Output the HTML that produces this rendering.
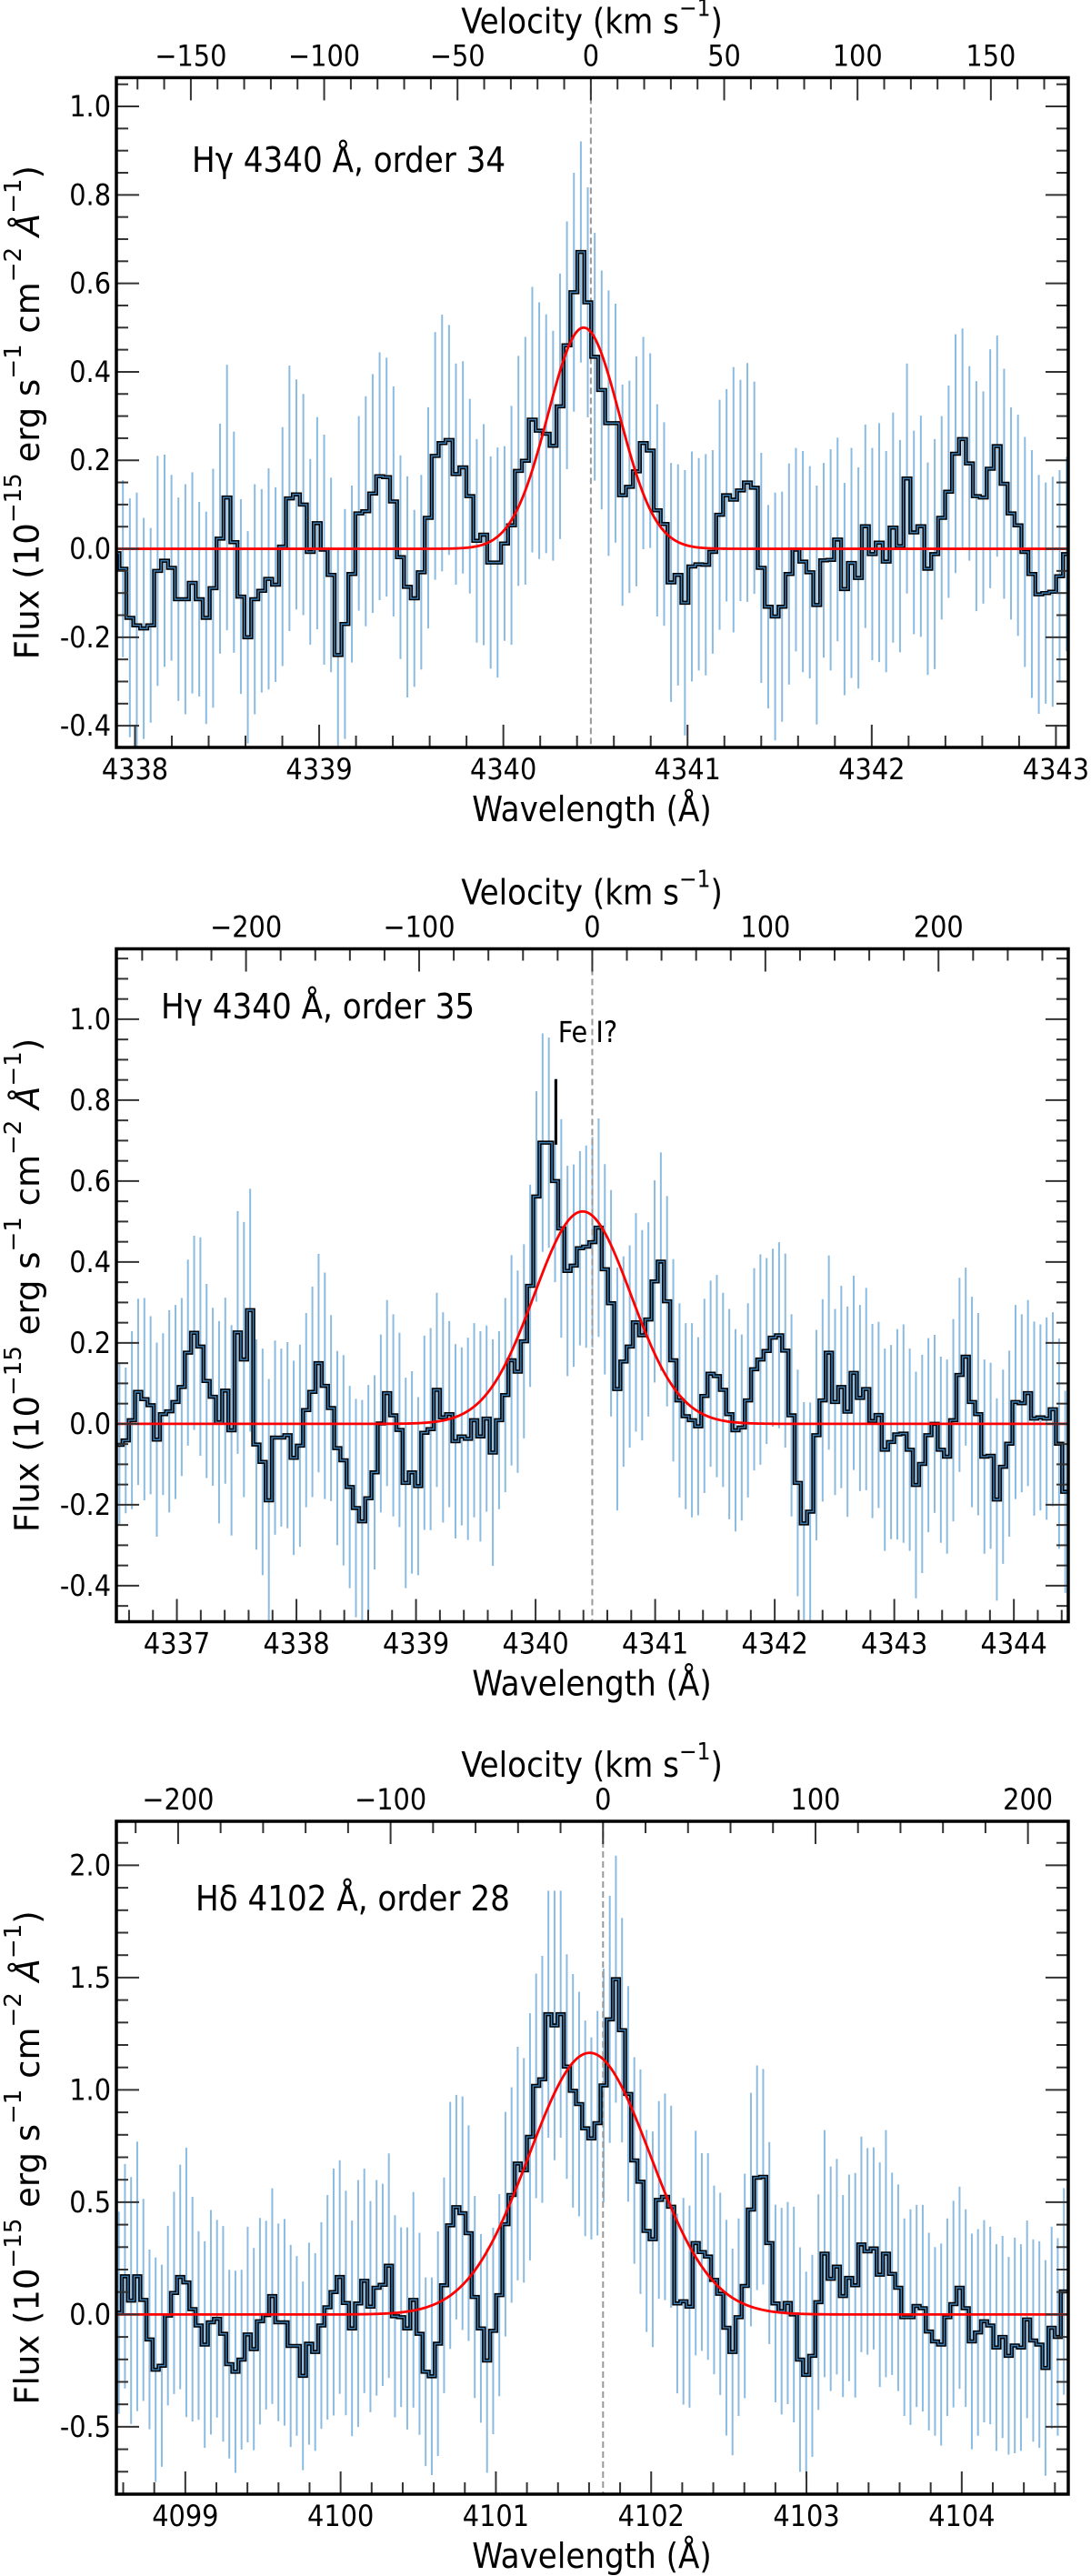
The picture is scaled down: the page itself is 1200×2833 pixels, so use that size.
<!DOCTYPE html>
<html><head><meta charset="utf-8"><title>Balmer line spectra</title>
<style>
html,body{margin:0;padding:0;background:#fff;}
svg{display:block;}
.tk{font-family:"DejaVu Sans Condensed","Liberation Sans Narrow","Liberation Sans",sans-serif;font-stretch:condensed;font-size:32px;fill:#000;}
.ttl{font-family:"DejaVu Sans Condensed","Liberation Sans Narrow","Liberation Sans",sans-serif;font-stretch:condensed;font-size:38px;fill:#000;}
.ylab{font-family:"DejaVu Sans","Liberation Sans",sans-serif;font-size:37px;fill:#000;}
</style></head>
<body>
<svg id="fig" xmlns="http://www.w3.org/2000/svg" width="1200" height="2833" viewBox="0 0 1200 2833"></svg>
<script>
// ---------- DATA ----------
// Panel 1: H-gamma order 34
const p1Start = 4337.878;
const p1Step = 0.03767;
const p1Flux = [-0.01,-0.045,-0.156,-0.173,-0.18,-0.173,-0.05,-0.027,-0.043,-0.114,-0.114,
-0.077,-0.114,-0.156,-0.089,0.023,0.116,0.015,-0.108,-0.2,-0.114,
-0.095,-0.068,-0.081,0.005,0.114,0.123,0.1,-0.007,0.058,-0.002,
-0.059,-0.24,-0.17,-0.057,0.08,0.085,0.125,0.164,0.162,0.107,
-0.019,-0.086,-0.112,-0.053,0.07,0.21,0.239,0.246,0.169,0.184,
0.119,0.018,0.032,-0.031,-0.031,0.012,0.053,0.176,0.199,0.292,
0.267,0.26,0.233,0.322,0.46,0.58,0.671,
0.557,0.434,0.359,0.284,0.284,0.121,0.14,0.175,0.239,0.222,
0.087,0.056,-0.076,-0.059,-0.122,-0.04,-0.035,-0.036,-0.007,0.077,
0.121,0.111,0.132,0.15,0.138,-0.043,-0.131,-0.153,-0.131,-0.057,
-0.002,-0.029,-0.053,-0.127,-0.026,-0.025,0.021,-0.091,-0.032,-0.066,
0.051,-0.012,0.014,-0.029,0.048,0.006,0.159,0.037,0.051,-0.045,
-0.012,0.07,0.129,0.215,0.248,0.193,0.119,0.116,0.181,0.232,
0.147,0.08,0.053,-0.007,-0.057,-0.103,-0.1,-0.097,-0.062,-0.012];
const p1Err = [0.26,0.2,0.27,0.3,0.25,0.22,0.26,0.24,0.21,0.23,0.26,
0.25,0.22,0.24,0.27,0.26,0.3,0.25,0.22,0.24,0.26,
0.23,0.25,0.22,0.27,0.3,0.26,0.25,0.21,0.24,0.26,
0.22,0.24,0.26,0.2,0.22,0.26,0.27,0.28,0.27,0.26,
0.23,0.25,0.2,0.22,0.25,0.28,0.29,0.26,0.25,0.24,
0.22,0.23,0.25,0.24,0.26,0.22,0.27,0.26,0.28,0.3,
0.29,0.27,0.26,0.3,0.28,0.27,0.25,
0.26,0.28,0.27,0.3,0.27,0.25,0.24,0.26,0.24,0.22,
0.24,0.23,0.27,0.25,0.3,0.26,0.24,0.25,0.23,0.26,
0.24,0.3,0.25,0.27,0.24,0.26,0.23,0.28,0.26,0.25,
0.23,0.25,0.24,0.27,0.22,0.25,0.23,0.24,0.26,0.25,
0.23,0.24,0.27,0.25,0.26,0.24,0.26,0.23,0.25,0.24,
0.26,0.23,0.24,0.27,0.25,0.22,0.26,0.24,0.27,0.25,
0.26,0.24,0.25,0.26,0.28,0.27,0.25,0.26,0.24,0.22];
const p1Fit = {amp: 0.50, center: 4340.436, sigma: 0.194};
const p1Rest = 4340.475;

// Panel 2: H-gamma order 35
const p2Start = 4336.494;
const p2Step = 0.05204;
const p2Flux = [-0.052,-0.041,0.009,0.079,0.061,0.046,-0.039,0.024,0.031,0.054,
0.091,0.176,0.225,0.191,0.106,0.067,0.004,0.082,-0.016,0.226,
0.159,0.281,-0.051,-0.094,-0.189,-0.034,-0.034,-0.028,-0.084,-0.054,
0.034,0.079,0.15,0.094,0.039,-0.06,-0.09,-0.156,-0.208,-0.241,
-0.184,-0.12,0.001,0.076,0.021,-0.015,-0.146,-0.12,-0.154,-0.022,
-0.013,0.084,0.016,0.024,-0.043,-0.031,-0.037,0.009,-0.031,0.013,
-0.071,0.009,0.071,0.157,0.129,0.204,0.341,
0.562,0.695,0.695,0.6,0.483,0.378,0.391,0.434,
0.438,0.449,0.485,0.382,0.298,0.086,0.154,0.191,0.251,0.219,
0.258,0.352,0.401,0.303,0.157,0.058,0.019,0.009,-0.006,0.069,
0.124,0.118,0.084,0.024,-0.016,-0.009,0.058,0.135,0.159,0.18,
0.213,0.219,0.181,0.021,-0.146,-0.246,-0.217,-0.028,0.058,0.176,
0.054,0.091,0.03,0.126,0.064,0.086,0.007,0.022,-0.064,-0.045,
-0.026,-0.024,-0.064,-0.151,-0.099,-0.028,0,-0.064,-0.081,0.009,
0.121,0.166,0.054,0.024,-0.081,-0.079,-0.187,-0.106,-0.049,0.054,
0.051,0.076,0.013,0.016,0.013,0.036,-0.049,-0.168];
const p2Err = [0.2,0.18,0.22,0.23,0.25,0.22,0.24,0.2,0.25,0.24,
0.22,0.23,0.24,0.27,0.24,0.22,0.25,0.23,0.26,0.3,
0.34,0.3,0.26,0.28,0.3,0.24,0.22,0.23,0.24,0.25,
0.24,0.26,0.27,0.28,0.23,0.24,0.26,0.25,0.27,0.3,
0.28,0.24,0.22,0.23,0.25,0.24,0.26,0.25,0.22,0.24,
0.25,0.24,0.26,0.23,0.24,0.22,0.25,0.24,0.26,0.23,
0.28,0.22,0.24,0.26,0.25,0.24,0.25,
0.26,0.27,0.26,0.25,0.27,0.26,0.25,0.24,
0.25,0.26,0.27,0.26,0.28,0.3,0.26,0.25,0.27,0.26,
0.24,0.25,0.27,0.26,0.25,0.24,0.23,0.24,0.22,0.24,
0.23,0.25,0.24,0.26,0.25,0.23,0.24,0.25,0.26,0.23,
0.22,0.23,0.24,0.25,0.28,0.3,0.27,0.26,0.25,0.24,
0.23,0.25,0.26,0.24,0.23,0.25,0.24,0.23,0.25,0.24,
0.26,0.27,0.25,0.28,0.27,0.24,0.22,0.23,0.24,0.25,
0.24,0.22,0.26,0.25,0.24,0.23,0.25,0.24,0.23,0.24,
0.22,0.23,0.24,0.23,0.25,0.24,0.26,0.25];
const p2Fit = {amp: 0.525, center: 4340.393, sigma: 0.405};
const p2Rest = 4340.474;
const p2Mark = {wave: 4340.17, low: 0.69, high: 0.852, label: "Fe I?"};

// Panel 3: H-delta order 28
const p3Start = 4098.552;
const p3Step = 0.03952;
const p3Flux = [0.008,0.17,0.062,0.17,0.065,-0.111,-0.246,-0.228,-0.005,0.096,
0.167,0.143,0.024,-0.049,-0.134,-0.035,-0.019,-0.086,-0.221,-0.255,
-0.201,-0.089,-0.154,-0.03,-0.003,0.082,-0.035,-0.035,-0.14,-0.14,
-0.273,-0.13,-0.167,-0.049,0.032,0.1,0.167,0.051,-0.062,0.049,
0.15,0.035,0.119,0.132,0.217,-0.008,-0.012,-0.062,0.065,-0.086,
-0.255,-0.275,-0.13,0.13,0.397,0.478,0.451,0.362,0.078,-0.062,
-0.205,-0.073,0.086,0.402,0.532,0.672,0.642,0.791,1.018,1.047,
1.337,1.287,1.337,1.104,0.996,0.937,0.829,
0.784,0.852,1.02,1.314,1.493,1.266,0.982,0.686,0.591,0.372,
0.335,0.51,0.524,0.48,0.049,0.059,0.035,0.318,0.278,0.258,
0.154,0.092,-0.059,-0.167,-0.012,0.127,0.467,0.609,0.613,0.318,
0.049,0.015,0.051,0,-0.201,-0.269,-0.184,0.055,0.271,0.159,
0.213,0.082,0.163,0.13,0.312,0.281,0.294,0.177,0.271,0.181,
0.119,-0.012,-0.012,0.038,0.028,-0.076,-0.12,-0.134,-0.012,0.046,
0.119,0.028,-0.12,-0.08,-0.03,-0.049,-0.147,-0.1,-0.184,-0.138,
-0.147,-0.022,-0.116,-0.134,-0.238,-0.059,-0.1,0.103];
const p3Err = [0.45,0.5,0.55,0.6,0.45,0.4,0.5,0.45,0.4,0.45,
0.5,0.6,0.5,0.42,0.46,0.5,0.44,0.48,0.42,0.45,
0.4,0.48,0.45,0.46,0.42,0.48,0.44,0.46,0.45,0.4,
0.42,0.45,0.44,0.46,0.5,0.55,0.52,0.5,0.48,0.55,
0.5,0.47,0.48,0.45,0.5,0.45,0.4,0.45,0.48,0.45,
0.42,0.44,0.5,0.48,0.55,0.5,0.52,0.48,0.45,0.42,
0.5,0.46,0.45,0.5,0.48,0.52,0.5,0.55,0.5,0.55,
0.55,0.6,0.55,0.5,0.52,0.5,0.48,
0.45,0.5,0.52,0.55,0.55,0.5,0.48,0.46,0.5,0.45,
0.48,0.44,0.46,0.45,0.4,0.46,0.45,0.5,0.44,0.46,
0.42,0.45,0.48,0.46,0.44,0.5,0.52,0.5,0.48,0.45,
0.44,0.46,0.45,0.48,0.5,0.46,0.45,0.48,0.55,0.5,
0.48,0.45,0.46,0.5,0.48,0.46,0.45,0.5,0.55,0.45,
0.46,0.44,0.48,0.45,0.46,0.44,0.42,0.45,0.44,0.46,
0.45,0.44,0.48,0.46,0.45,0.44,0.46,0.45,0.44,0.48,
0.46,0.44,0.45,0.46,0.48,0.45,0.44,0.46];
const p3Fit = {amp: 1.165, center: 4101.604, sigma: 0.392};
const p3Rest = 4101.69;

// ---------- DRAWING ----------
const NS = "http://www.w3.org/2000/svg";
const C_KMS = 299792.458;
const svg = document.getElementById('fig');
function mk(tag, attrs, parent) {
  const e = document.createElementNS(NS, tag);
  for (const k in attrs) e.setAttribute(k, attrs[k]);
  (parent || svg).appendChild(e);
  return e;
}
function fmtV(v) { return v < 0 ? '\u2212' + Math.abs(v) : String(v); }

function drawPanel(cfg) {
  const g = mk('g', {});
  
  
  const X = w => cfg.x0 + (w - cfg.xmin) / (cfg.xmax - cfg.xmin) * (cfg.x1 - cfg.x0);
  const Y = f => cfg.y1 - (f - cfg.ymin) / (cfg.ymax - cfg.ymin) * (cfg.y1 - cfg.y0);
  const cp = 'clip-' + cfg.name;
  const defs = mk('defs', {}, g);
  const cl = mk('clipPath', {id: cp}, defs);
  mk('rect', {x: cfg.x0, y: cfg.y0, width: cfg.x1 - cfg.x0, height: cfg.y1 - cfg.y0}, cl);
  const plot = mk('g', {'clip-path': 'url(#' + cp + ')'}, g);

  const eg = mk('g', {}, plot);
  
  
  for (let i = 0; i < cfg.flux.length; i++) {
    const wc = cfg.start + (i + 0.5) * cfg.step;
    const ln = mk('line', {x1: X(wc), x2: X(wc), y1: Y(cfg.flux[i] - cfg.err[i]), y2: Y(cfg.flux[i] + cfg.err[i]), stroke: '#8bbbe0', 'stroke-width': 2}, eg);
    
    
  }
  const dl = mk('line', {x1: X(cfg.rest), x2: X(cfg.rest), y1: cfg.y0, y2: cfg.y1, stroke: '#999', 'stroke-width': 2, 'stroke-dasharray': '7,4'}, plot);
  
  
  let d = '';
  for (let i = 0; i < cfg.flux.length; i++) {
    const a = X(cfg.start + i * cfg.step), b = X(cfg.start + (i + 1) * cfg.step), y = Y(cfg.flux[i]);
    d += (i === 0 ? 'M' + a + ',' + y : 'L' + a + ',' + y) + 'L' + b + ',' + y;
  }
  const s1 = mk('path', {d: d, fill: 'none', stroke: '#000', 'stroke-width': 4.5, 'stroke-linejoin': 'miter'}, plot);
  
  
  const s2 = mk('path', {d: d, fill: 'none', stroke: '#3d7fb5', 'stroke-width': 1.4}, plot);
  
  
  let gd = '';
  const n = 600;
  for (let k = 0; k <= n; k++) {
    const w = cfg.xmin + (cfg.xmax - cfg.xmin) * k / n;
    const f = cfg.fit.amp * Math.exp(-0.5 * Math.pow((w - cfg.fit.center) / cfg.fit.sigma, 2));
    gd += (k ? 'L' : 'M') + X(w).toFixed(2) + ',' + Y(f).toFixed(2);
  }
  const gf = mk('path', {d: gd, fill: 'none', stroke: '#ff0000', 'stroke-width': 2.8}, plot);
  
  
  if (cfg.mark) {
    const ml = mk('line', {x1: X(cfg.mark.wave), x2: X(cfg.mark.wave), y1: Y(cfg.mark.low), y2: Y(cfg.mark.high), stroke: '#000', 'stroke-width': 3}, plot);
    
    
    const mt = mk('text', {x: X(cfg.mark.wave) + 35, y: Y(cfg.mark.high) - 52, 'text-anchor': 'middle', 'dominant-baseline': 'central', class: 'tk', 'font-size': 34}, g);
    mt.textContent = cfg.mark.label;
    
    
  }

  const tg = mk('g', {stroke: '#333', 'stroke-width': 2}, g);
  
  
  const MAJ = 25, MIN = 13;
  for (let t = Math.ceil(cfg.xmin / 0.2) * 0.2; t <= cfg.xmax + 1e-6; t += 0.2) {
    const isMaj = Math.abs(t - Math.round(t)) < 1e-6;
    const x = X(t), L = isMaj ? MAJ : MIN;
    mk('line', {x1: x, x2: x, y1: cfg.y1, y2: cfg.y1 - L}, tg);
    if (isMaj) {
      const tx = mk('text', {x: x, y: cfg.y1 + 24, 'text-anchor': 'middle', 'dominant-baseline': 'central', class: 'tk', stroke: 'none'}, g);
      tx.textContent = Math.round(t);
      
      
    }
  }
  const vmin = C_KMS * (cfg.xmin - cfg.rest) / cfg.rest, vmax = C_KMS * (cfg.xmax - cfg.rest) / cfg.rest;
  for (let v = Math.ceil(vmin / cfg.vMinor) * cfg.vMinor; v <= vmax; v += cfg.vMinor) {
    const isMaj = Math.abs(v % cfg.vMajor) < 1e-6;
    const x = X(cfg.rest * (1 + v / C_KMS)), L = isMaj ? MAJ : MIN;
    mk('line', {x1: x, x2: x, y1: cfg.y0, y2: cfg.y0 + L}, tg);
    if (isMaj) {
      const tx = mk('text', {x: x, y: cfg.y0 - 24, 'text-anchor': 'middle', 'dominant-baseline': 'central', class: 'tk', stroke: 'none'}, g);
      tx.textContent = fmtV(Math.round(v));
      
      
    }
  }
  const nMin = Math.round(cfg.yMajor / cfg.yMinor);
  for (let k = Math.ceil(cfg.ymin / cfg.yMinor); k * cfg.yMinor <= cfg.ymax; k++) {
    const t = k * cfg.yMinor;
    const isMaj = k % nMin === 0;
    const y = Y(t), L = isMaj ? MAJ : MIN;
    mk('line', {x1: cfg.x0, x2: cfg.x0 + L, y1: y, y2: y}, tg);
    mk('line', {x1: cfg.x1, x2: cfg.x1 - L, y1: y, y2: y}, tg);
    if (isMaj) {
      const tx = mk('text', {x: cfg.x0 - 6, y: y, 'text-anchor': 'end', 'dominant-baseline': 'central', class: 'tk', stroke: 'none'}, g);
      tx.textContent = t.toFixed(1).replace('-0.0', '0.0');
      
      
    }
  }
  const fr = mk('rect', {x: cfg.x0, y: cfg.y0, width: cfg.x1 - cfg.x0, height: cfg.y1 - cfg.y0, fill: 'none', stroke: '#000', 'stroke-width': 3.5}, g);
  
  

  const vt = mk('text', {x: 651, y: cfg.y0 - 62, 'text-anchor': 'middle', 'dominant-baseline': 'central', class: 'ttl'}, g);
  vt.innerHTML = 'Velocity (km s<tspan dy="-14" font-size="26">\u22121</tspan><tspan dy="14">)</tspan>';
  
  
  const wt = mk('text', {x: 651, y: cfg.y1 + 68, 'text-anchor': 'middle', 'dominant-baseline': 'central', class: 'ttl'}, g);
  wt.textContent = 'Wavelength (\u00c5)';
  
  
  const cy = (cfg.y0 + cfg.y1) / 2;
  const yt = mk('text', {x: 0, y: 0, 'text-anchor': 'middle', 'dominant-baseline': 'central', class: 'ylab', transform: 'translate(30,' + cy + ') rotate(-90)'}, g);
  yt.innerHTML = 'Flux (10<tspan dy="-15" font-size="26">\u221215</tspan><tspan dy="15"> erg s</tspan><tspan dy="-15" font-size="26">\u22121</tspan><tspan dy="15"> cm</tspan><tspan dy="-15" font-size="26">\u22122</tspan><tspan dy="15" font-style="italic"> \u00c5</tspan><tspan dy="-15" font-size="26">\u22121</tspan><tspan dy="15">)</tspan>';
  
  
  const an = mk('text', {x: cfg.annX, y: cfg.annY, 'text-anchor': 'start', 'dominant-baseline': 'central', class: 'ttl', 'font-size': 37}, g);
  an.textContent = cfg.ann;
  
  
}

drawPanel({name: 'panel-hgamma-order34', x0: 128, x1: 1175, y0: 85.4, y1: 822,
  xmin: 4337.899, xmax: 4343.067, ymin: -0.449, ymax: 1.065,
  start: p1Start, step: p1Step, flux: p1Flux, err: p1Err, fit: p1Fit, rest: p1Rest,
  yMajor: 0.2, yMinor: 0.05, vMajor: 50, vMinor: 10,
  ann: 'H\u03b3 4340 \u00c5, order 34', annX: 211, annY: 176});
drawPanel({name: 'panel-hgamma-order35', x0: 128, x1: 1175, y0: 1043.5, y1: 1783.5,
  xmin: 4336.494, xmax: 4344.455, ymin: -0.489, ymax: 1.174,
  start: p2Start, step: p2Step, flux: p2Flux, err: p2Err, fit: p2Fit, rest: p2Rest, mark: p2Mark,
  yMajor: 0.2, yMinor: 0.05, vMajor: 100, vMinor: 20,
  ann: 'H\u03b3 4340 \u00c5, order 35', annX: 177, annY: 1107});
drawPanel({name: 'panel-hdelta-order28', x0: 128, x1: 1175, y0: 2003, y1: 2743,
  xmin: 4098.556, xmax: 4104.686, ymin: -0.80, ymax: 2.196,
  start: p3Start, step: p3Step, flux: p3Flux, err: p3Err, fit: p3Fit, rest: p3Rest,
  yMajor: 0.5, yMinor: 0.1, vMajor: 100, vMinor: 20,
  ann: 'H\u03b4 4102 \u00c5, order 28', annX: 215, annY: 2088});
</script>
</body></html>
